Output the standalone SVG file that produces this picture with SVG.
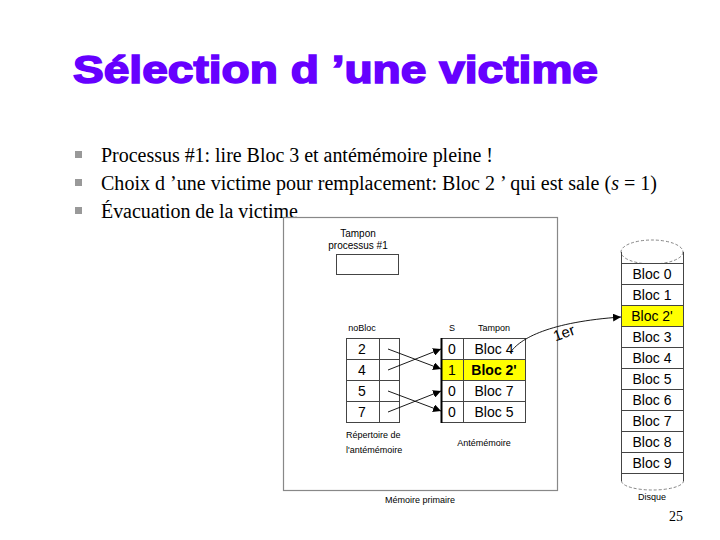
<svg xmlns="http://www.w3.org/2000/svg" width="720" height="540" viewBox="0 0 720 540">
<defs>
<style>
.title{font-family:"Liberation Sans",Arial,sans-serif;font-weight:900;font-size:38px;fill:#6600FF;stroke:#6600FF;stroke-width:1.6px}
.bt{font-family:"Liberation Serif","Times New Roman",serif;font-size:20px;fill:#000}
.sm{font-family:"Liberation Sans",Arial,sans-serif;font-size:10px;fill:#000}
.xs{font-family:"Liberation Sans",Arial,sans-serif;font-size:9px;fill:#000}
.lbl{font-family:"Liberation Sans",Arial,sans-serif;font-size:15px;fill:#000}
.cell{font-family:"Liberation Sans",Arial,sans-serif;font-size:14px;fill:#000;text-anchor:middle}
.box{fill:#fff;stroke:#444;stroke-width:1}
.yel{fill:#ffff00;stroke:#444;stroke-width:1}
.arr{fill:none;stroke:#000;stroke-width:0.9}
</style>
<marker id="ah" viewBox="0 0 10 10" refX="10" refY="5" markerWidth="8" markerHeight="8" markerUnits="userSpaceOnUse" orient="auto">
<path d="M0,0 L10,5 L0,10 z" fill="#000"/>
</marker>
</defs>
<rect width="720" height="540" fill="#fff"/>

<text class="title" x="73" y="83" textLength="525" lengthAdjust="spacingAndGlyphs">Sélection d ’une victime</text>

<g id="bullets">
<rect x="75" y="151" width="7" height="7" fill="#999"/>
<rect x="75" y="179" width="7" height="7" fill="#999"/>
<rect x="75" y="207" width="7" height="7" fill="#999"/>
<text class="bt" x="101" y="162" textLength="392" lengthAdjust="spacing">Processus #1: lire Bloc 3 et antémémoire pleine !</text>
<text class="bt" x="101" y="190" textLength="556" lengthAdjust="spacing">Choix d ’une victime pour remplacement: Bloc 2 ’ qui est sale (<tspan font-style="italic">s</tspan> = 1)</text>
<text class="bt" x="101" y="218" textLength="197" lengthAdjust="spacing">Évacuation de la victime</text>
</g>

<g id="memoire">
<rect x="283.5" y="217.5" width="274" height="273" fill="none" stroke="#888" stroke-width="1.2"/>
<text class="xs" x="420" y="503" text-anchor="middle">Mémoire primaire</text>
</g>

<g id="tampon-processus">
<text class="sm" x="358" y="237" text-anchor="middle">Tampon</text>
<text class="sm" x="358" y="249" text-anchor="middle">processus #1</text>
<rect x="336.5" y="254.5" width="62" height="20" class="box"/>
</g>

<g id="repertoire">
<text class="xs" x="362" y="331" text-anchor="middle">noBloc</text>
<rect x="346.5" y="338.5" width="33" height="21" class="box"/>
<rect x="379.5" y="338.5" width="20" height="21" class="box"/>
<rect x="346.5" y="359.5" width="33" height="21" class="box"/>
<rect x="379.5" y="359.5" width="20" height="21" class="box"/>
<rect x="346.5" y="380.5" width="33" height="21" class="box"/>
<rect x="379.5" y="380.5" width="20" height="21" class="box"/>
<rect x="346.5" y="401.5" width="33" height="21" class="box"/>
<rect x="379.5" y="401.5" width="20" height="21" class="box"/>
<text class="cell" x="362" y="354">2</text>
<text class="cell" x="362" y="375">4</text>
<text class="cell" x="362" y="396">5</text>
<text class="cell" x="362" y="417">7</text>
<text class="xs" x="346" y="438">Répertoire de</text>
<text class="xs" x="346" y="453">l'antémémoire</text>
</g>

<g id="antememoire">
<text class="xs" x="452" y="331" text-anchor="middle">S</text>
<text class="xs" x="494" y="331" text-anchor="middle">Tampon</text>
<rect x="441.5" y="338.5" width="22" height="21" class="box"/>
<rect x="463.5" y="338.5" width="62" height="21" class="box"/>
<rect x="441.5" y="359.5" width="22" height="21" class="yel"/>
<rect x="463.5" y="359.5" width="62" height="21" class="yel"/>
<rect x="441.5" y="380.5" width="22" height="21" class="box"/>
<rect x="463.5" y="380.5" width="62" height="21" class="box"/>
<rect x="441.5" y="401.5" width="22" height="21" class="box"/>
<rect x="463.5" y="401.5" width="62" height="21" class="box"/>
<line x1="441.5" y1="338" x2="441.5" y2="423" stroke="#000" stroke-width="2"/>
<text class="cell" x="452" y="354">0</text>
<text class="cell" x="452" y="375">1</text>
<text class="cell" x="452" y="396">0</text>
<text class="cell" x="452" y="417">0</text>
<text class="cell" x="494" y="354">Bloc 4</text>
<text class="cell" x="494" y="375" font-weight="bold">Bloc 2'</text>
<text class="cell" x="494" y="396">Bloc 7</text>
<text class="cell" x="494" y="417">Bloc 5</text>
<text class="xs" x="484" y="446" text-anchor="middle">Antémémoire</text>
</g>

<g id="disque">
<ellipse cx="652" cy="252" rx="31" ry="12" fill="none" stroke="#777" stroke-width="0.9" stroke-dasharray="3,2"/>
<line x1="621.5" y1="252" x2="621.5" y2="481" stroke="#444"/>
<line x1="683.5" y1="252" x2="683.5" y2="481" stroke="#444"/>
<path d="M621.5,481 A31,9 0 0 0 683.5,481" fill="none" stroke="#777" stroke-width="0.9" stroke-dasharray="3,2"/>
<rect x="621.5" y="263.5" width="62" height="21" class="box"/>
<rect x="621.5" y="284.5" width="62" height="21" class="box"/>
<rect x="621.5" y="305.5" width="62" height="21" class="yel"/>
<rect x="621.5" y="326.5" width="62" height="21" class="box"/>
<rect x="621.5" y="347.5" width="62" height="21" class="box"/>
<rect x="621.5" y="368.5" width="62" height="21" class="box"/>
<rect x="621.5" y="389.5" width="62" height="21" class="box"/>
<rect x="621.5" y="410.5" width="62" height="21" class="box"/>
<rect x="621.5" y="431.5" width="62" height="21" class="box"/>
<rect x="621.5" y="452.5" width="62" height="21" class="box"/>
<text class="cell" x="652" y="279">Bloc 0</text>
<text class="cell" x="652" y="300">Bloc 1</text>
<text class="cell" x="652" y="321">Bloc 2'</text>
<text class="cell" x="652" y="342">Bloc 3</text>
<text class="cell" x="652" y="363">Bloc 4</text>
<text class="cell" x="652" y="384">Bloc 5</text>
<text class="cell" x="652" y="405">Bloc 6</text>
<text class="cell" x="652" y="426">Bloc 7</text>
<text class="cell" x="652" y="447">Bloc 8</text>
<text class="cell" x="652" y="468">Bloc 9</text>
<text class="xs" x="652" y="500" text-anchor="middle">Disque</text>
</g>

<g id="connecteurs">
<line class="arr" x1="388" y1="349" x2="441" y2="369" marker-end="url(#ah)"/>
<line class="arr" x1="388" y1="370" x2="441" y2="349" marker-end="url(#ah)"/>
<line class="arr" x1="388" y1="391" x2="441" y2="411" marker-end="url(#ah)"/>
<line class="arr" x1="388" y1="412" x2="441" y2="391" marker-end="url(#ah)"/>
<path class="arr" d="M510,353 C520,338 550,322 621,317" marker-end="url(#ah)"/>
<text class="lbl" x="564" y="338" text-anchor="middle" transform="rotate(-20 564 333)">1er</text>
</g>

<text x="676" y="521" text-anchor="middle" font-family="Liberation Serif,'Times New Roman',serif" font-size="14" fill="#000">25</text>
</svg>
